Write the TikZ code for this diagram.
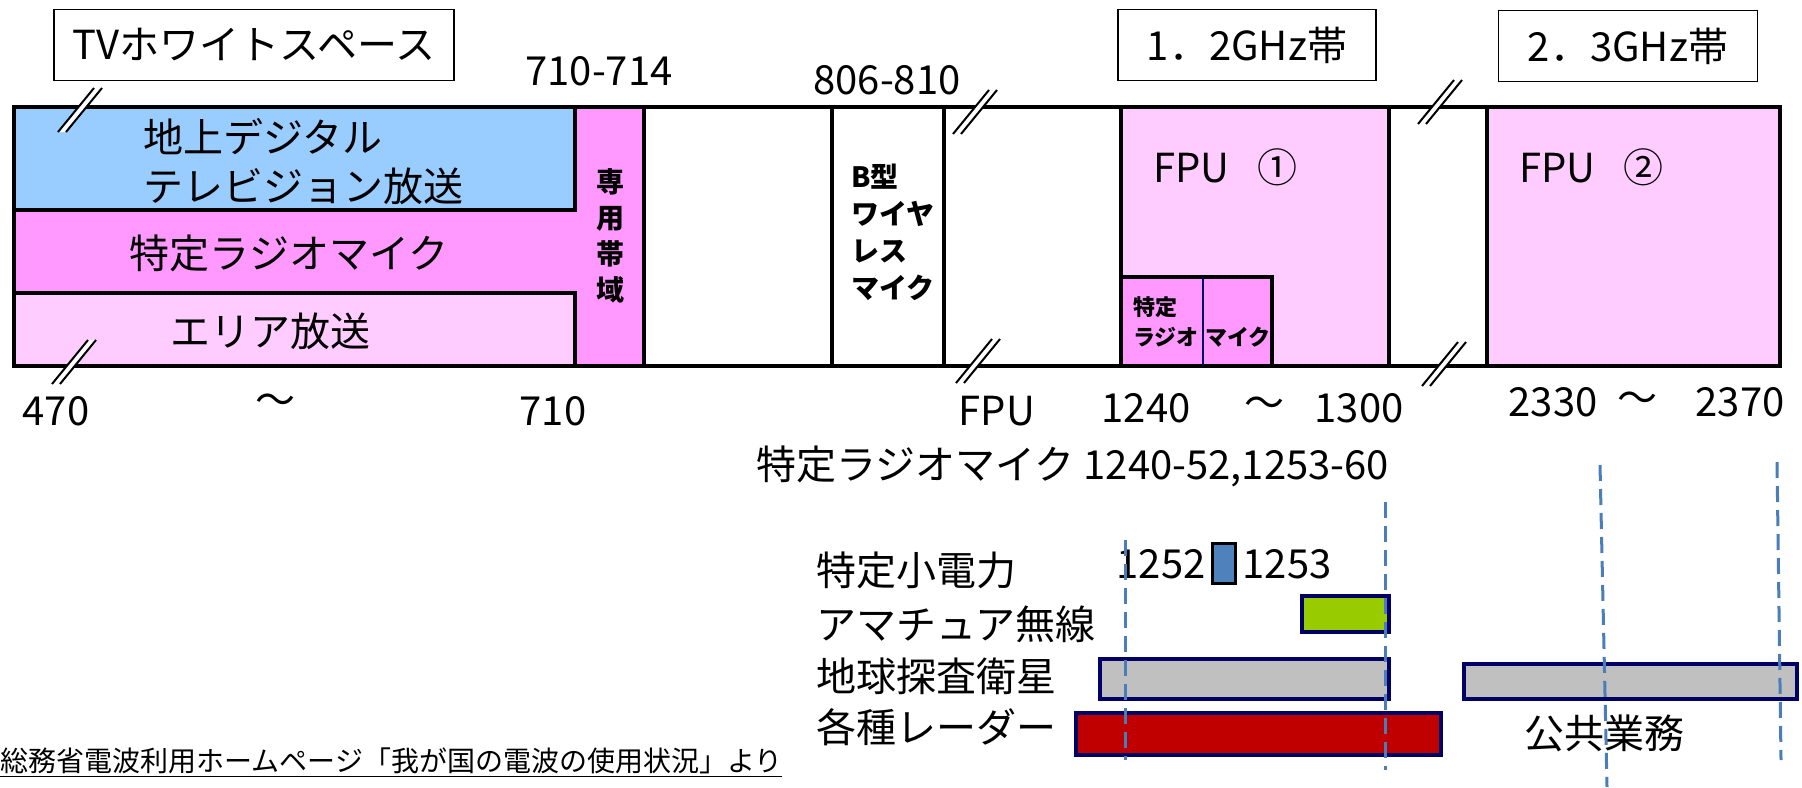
\documentclass[tikz,border=0pt]{standalone}
\usepackage{fontspec}
\setmainfont{Noto Sans CJK JP}
\definecolor{bluetv}{HTML}{99CCFF}
\definecolor{pinkmid}{HTML}{FF99FF}
\definecolor{pinklt}{HTML}{FFCCFF}
\definecolor{navyline}{HTML}{000066}
\definecolor{amgreen}{HTML}{99CC00}
\definecolor{satgray}{HTML}{C0C0C0}
\definecolor{radarred}{HTML}{C00000}
\definecolor{lpblue}{HTML}{4F81BD}
\definecolor{guideblue}{HTML}{4A7EBB}
% break mark across a band edge
\newcommand{\brk}[2]{%
  \fill[white] (#1-22,#2+22) -- (#1+14,#2-22) -- (#1+22,#2-22) -- (#1-14,#2+22) -- cycle;
  \draw[line width=1pt] (#1-22,#2+22) -- (#1+14,#2-22) (#1-14,#2+22) -- (#1+22,#2-22);}
\begin{document}
\begin{tikzpicture}[x=0.5pt,y=-0.5pt,
    band/.style={line width=2pt},
    txt/.style={font=\fontsize{20}{24.5}\selectfont, inner sep=0pt},
    boldtxt/.style={font=\fontsize{14}{18.5}\selectfont\bfseries, inner sep=0pt, align=left},
    titlebox/.style={draw, line width=0.8pt, minimum width=200pt, minimum height=35.5pt, inner sep=0pt, font=\fontsize{20}{24}\selectfont},
    bar/.style={draw=navyline, line width=2pt},
    guide/.style={guideblue, line width=1.5pt, dash pattern=on 8pt off 4pt}]
  \useasboundingbox (0,0) rectangle (1802,787);
  % band
  \fill[pinkmid] (14,107) rectangle (644,366);
  \filldraw[fill=bluetv, band] (14,107) rectangle (575,210);
  \filldraw[fill=pinklt, band] (14,293) rectangle (575,366);
  \fill[pinklt] (1121,107) rectangle (1389,366);
  \fill[pinklt] (1487,107) rectangle (1780,366);
  \draw[band] (14,107) rectangle (1780,366);
  \foreach \x in {644,832,944,1121,1389,1487}
    \draw[band] (\x,107) -- (\x,366);
  \filldraw[fill=pinkmid, band] (1121,277) rectangle (1272,366);
  \draw[navyline, line width=1.2pt] (1203,277) -- (1203,366);
  \foreach \x/\y in {80/110, 74/362, 975/112, 978/361, 1440/102, 1444/364}
    \brk{\x}{\y};

  % titles
  \node[titlebox] (tvws) at (254,45) {TVホワイトスペース};
  \node[titlebox, minimum width=129pt] (ghz12) at (1247,45) {1．2GHz帯};
  \node[titlebox, minimum width=129.5pt] (ghz23) at (1628,46) {2．3GHz帯};

  % frequencies
  \node[txt] (f710a) at (599,71) {710-714};
  \node[txt] (f806) at (887,80) {806-810};
  \node[txt] (f470) at (56,411) {470};
  \node[txt] (tildeA) at (275,404) {～};
  \node[txt] (f710) at (553,411) {710};
  \node[txt] (fpulbl) at (997,411) {FPU};
  \node[txt] (f1240) at (1146,408) {1240};
  \node[txt] (tildeB) at (1264,407) {～};
  \node[txt] (f1300) at (1359,408) {1300};
  \node[txt] (f2330) at (1553,402) {2330};
  \node[txt] (tildeC) at (1637,402) {～};
  \node[txt] (f2370) at (1740,402) {2370};
  \node[txt, anchor=west] (srmfreq) at (756,466) {特定ラジオマイク 1240-52,1253-60};

  % band contents
  \node[txt, anchor=west, align=left] (dtv) at (143,162) {地上デジタル\\テレビジョン放送};
  \node[txt] (srm) at (289,253) {特定ラジオマイク};
  \node[txt] (area) at (270,331) {エリア放送};
  \node[boldtxt, align=center, font=\fontsize{14}{18}\selectfont\bfseries] (dedic) at (610,236) {専\\用\\帯\\域};
  \node[boldtxt, anchor=west] (btype) at (851,232) {B型\\ワイヤ\\レス\\マイク};
  \node[txt, anchor=west] (fpu1) at (1153,167) {FPU\hspace{0.7em}①};
  \node[txt, anchor=west] (fpu2) at (1519,167) {FPU\hspace{0.7em}②};
  \node[boldtxt, anchor=west, font=\fontsize{11}{15}\selectfont\bfseries] (srma) at (1133,322) {特定\\ラジオ};
  \node[boldtxt, anchor=west, font=\fontsize{11}{15}\selectfont\bfseries] (srmb) at (1205,337) {マイク};

  % other users
  \node[txt, anchor=west] (lp) at (816,570) {特定小電力};
  \node[txt, anchor=west] (ham) at (816,624) {アマチュア無線};
  \node[txt, anchor=west] (eess) at (816,676) {地球探査衛星};
  \node[txt, anchor=west] (radar) at (816,727) {各種レーダー};
  \node[txt] (f1252) at (1161,564) {1252};
  \node[txt] (f1253) at (1287,564) {1253};
  \node[txt] (pub) at (1604,733) {公共業務};
  \filldraw[fill=lpblue, draw=black, line width=1.5pt] (1212,543) rectangle (1235,583);
  \filldraw[bar, fill=amgreen] (1302,596) rectangle (1389,632);
  \filldraw[bar, fill=satgray] (1100,659) rectangle (1389,699);
  \filldraw[bar, fill=satgray] (1464,664) rectangle (1797,699);
  \filldraw[bar, fill=radarred] (1076,713) rectangle (1441,755);
  \draw[guide] (1125,540) -- (1125,760);
  \draw[guide] (1385,502) -- (1385,770);
  \draw[guide] (1600,465) -- (1607,787);
  \draw[guide] (1777,462) -- (1781,760);

  \node[anchor=base west, inner sep=0pt, font=\fontsize{14}{16}\selectfont] (src) at (0,771)
    {\underline{総務省電波利用ホームページ「我が国の電波の使用状況」より}};
\end{tikzpicture}
\end{document}
